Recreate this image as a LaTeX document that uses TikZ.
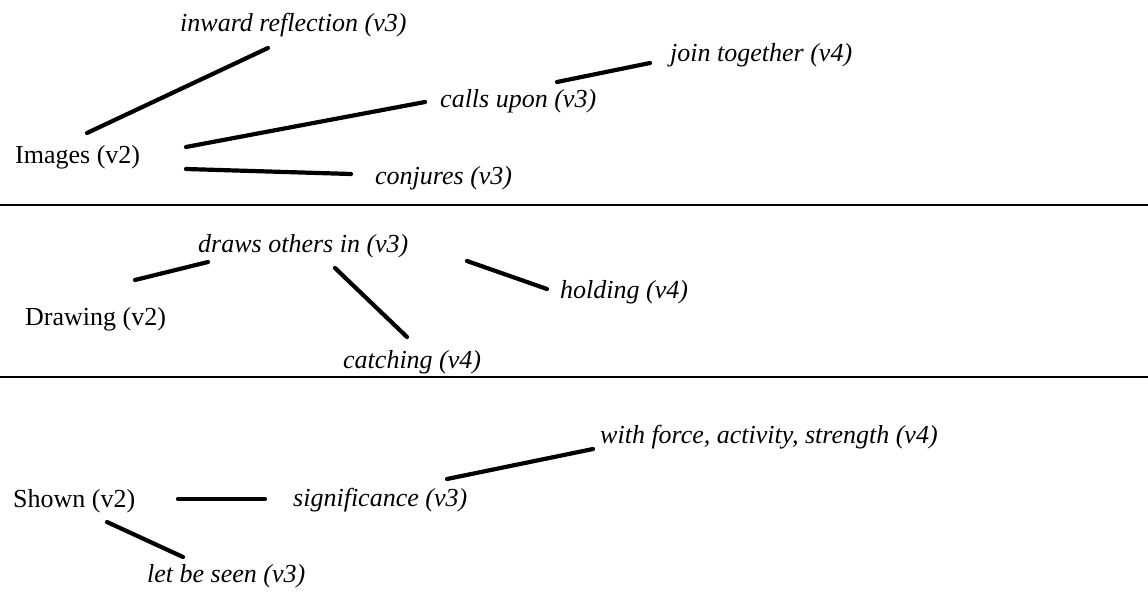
\documentclass[tikz,border=0pt]{standalone}
\usepackage{fontspec}
\setmainfont{Liberation Serif}
\begin{document}
\begin{tikzpicture}[x=1pt,y=-1pt,
  term/.style={font=\fontsize{26}{28}\selectfont, inner sep=0pt, anchor=base west},
  gloss/.style={font=\fontsize{26}{28}\selectfont\itshape, inner sep=0pt, anchor=base west},
  link/.style={line width=4.2pt, line cap=round},
  rule/.style={line width=2.6pt}]
\useasboundingbox (0,0) rectangle (1148,610);

% --- Images ---
\node[term]  (images)  at (15,163)  {Images (v2)};
\node[gloss] (inward)  at (180,32)  {inward reflection (v3)};
\node[gloss] (calls)   at (440,107) {calls upon (v3)};
\node[gloss] (join)    at (670,62)  {join together (v4)};
\node[gloss] (conj)    at (375,184) {conjures (v3)};
\coordinate (a1) at (87,133);  \coordinate (a2) at (268,48);
\coordinate (b1) at (186,147); \coordinate (b2) at (425,102);
\coordinate (c1) at (557,82);  \coordinate (c2) at (650,63);
\coordinate (d1) at (186,169); \coordinate (d2) at (351,174);
\draw[link] (a1) -- (a2);
\draw[link] (b1) -- (b2);
\draw[link] (c1) -- (c2);
\draw[link] (d1) -- (d2);

\coordinate (r1l) at (0,205); \coordinate (r1r) at (1148,205);
\draw[rule] (r1l) -- (r1r);

% --- Drawing ---
\node[term]  (drawing) at (25,325)  {Drawing (v2)};
\node[gloss] (draws)   at (198,252) {draws others in (v3)};
\node[gloss] (holding) at (560,298) {holding (v4)};
\node[gloss] (catch)   at (343,368) {catching (v4)};
\coordinate (e1) at (135,280); \coordinate (e2) at (208,262);
\coordinate (f1) at (335,268); \coordinate (f2) at (407,337);
\coordinate (g1) at (467,261); \coordinate (g2) at (547,289);
\draw[link] (e1) -- (e2);
\draw[link] (f1) -- (f2);
\draw[link] (g1) -- (g2);

\coordinate (r2l) at (0,377); \coordinate (r2r) at (1148,377);
\draw[rule] (r2l) -- (r2r);

% --- Shown ---
\node[term]  (shown)   at (13,507)  {Shown (v2)};
\node[gloss] (signif)  at (293,506) {significance (v3)};
\node[gloss] (force)   at (600,443) {with force, activity, strength (v4)};
\node[gloss] (seen)    at (147,582) {let be seen (v3)};
\coordinate (h1) at (178,499); \coordinate (h2) at (265,499);
\coordinate (i1) at (447,479); \coordinate (i2) at (593,449);
\coordinate (j1) at (107,522); \coordinate (j2) at (183,557);
\draw[link] (h1) -- (h2);
\draw[link] (i1) -- (i2);
\draw[link] (j1) -- (j2);
\end{tikzpicture}
\end{document}
